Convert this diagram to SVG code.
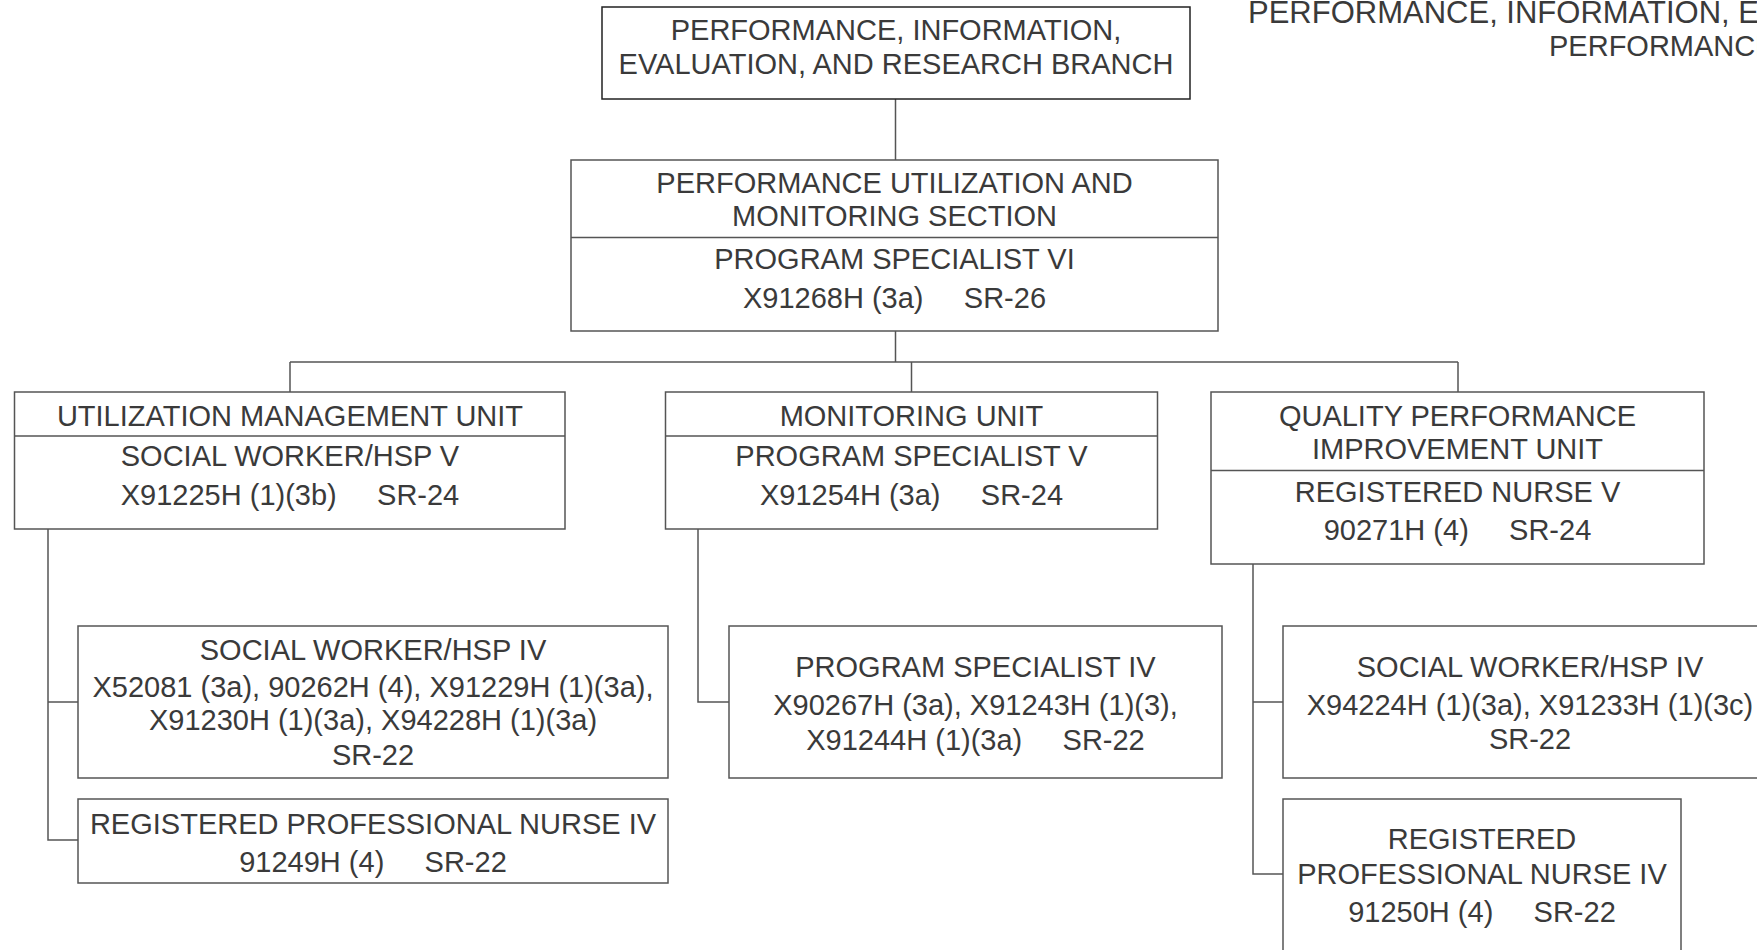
<svg xmlns="http://www.w3.org/2000/svg" width="1757" height="950" viewBox="0 0 1757 950">
<style>
text{font-family:"Liberation Sans",Arial,sans-serif;font-size:29px;fill:#3a3a3a;text-anchor:middle}
.box{fill:#fff;stroke:#555;stroke-width:1.5}
.top{fill:#fff;stroke:#222;stroke-width:1.5}
.div{stroke:#555;stroke-width:1.5}
.con{fill:none;stroke:#555;stroke-width:1.5}
.title{text-anchor:start}
</style>
<rect width="1757" height="950" fill="#fff"/>
<g id="title">
<text class="title" x="1248" y="23" style="font-size:31px">PERFORMANCE, INFORMATION, E</text>
<text class="title" x="1549" y="56">PERFORMANCE</text>
</g>
<g id="connectors">
<path class="con" d="M895.5,99V160M895.5,331V362M290,362H1458M290,362V392M911.5,362V392M1458,362V392"/>
<path class="con" d="M48,529V840H78M48,702H78"/>
<path class="con" d="M698,529V702H729"/>
<path class="con" d="M1253,564V874H1283M1253,702H1283"/>
</g>
<g id="branch">
<rect class="top" x="602" y="7" width="588" height="92"/>
<text x="896" y="40">PERFORMANCE, INFORMATION,</text>
<text x="896" y="74">EVALUATION, AND RESEARCH BRANCH</text>
</g>
<g id="section">
<rect class="box" x="571" y="160" width="647" height="171"/>
<line class="div" x1="571" y1="237.5" x2="1218" y2="237.5"/>
<text x="894.5" y="193">PERFORMANCE UTILIZATION AND</text>
<text x="894.5" y="226">MONITORING SECTION</text>
<text x="894.5" y="269">PROGRAM SPECIALIST VI</text>
<text x="894.5" y="308" xml:space="preserve">X91268H (3a)     SR-26</text>
</g>
<g id="umu">
<rect class="box" x="14.5" y="392" width="550.5" height="137"/>
<line class="div" x1="14.5" y1="436" x2="565" y2="436"/>
<text x="290" y="426">UTILIZATION MANAGEMENT UNIT</text>
<text x="290" y="466">SOCIAL WORKER/HSP V</text>
<text x="290" y="505" xml:space="preserve">X91225H (1)(3b)     SR-24</text>
</g>
<g id="monitoring">
<rect class="box" x="665.5" y="392" width="492" height="137"/>
<line class="div" x1="665.5" y1="436" x2="1157.5" y2="436"/>
<text x="911.5" y="426">MONITORING UNIT</text>
<text x="911.5" y="466">PROGRAM SPECIALIST V</text>
<text x="911.5" y="505" xml:space="preserve">X91254H (3a)     SR-24</text>
</g>
<g id="qpi">
<rect class="box" x="1211" y="392" width="493" height="172"/>
<line class="div" x1="1211" y1="470.5" x2="1704" y2="470.5"/>
<text x="1457.5" y="426">QUALITY PERFORMANCE</text>
<text x="1457.5" y="459">IMPROVEMENT UNIT</text>
<text x="1457.5" y="502">REGISTERED NURSE V</text>
<text x="1457.5" y="540" xml:space="preserve">90271H (4)     SR-24</text>
</g>
<g id="sw4-left">
<rect class="box" x="78" y="626" width="590" height="152"/>
<text x="373" y="660">SOCIAL WORKER/HSP IV</text>
<text x="373" y="697">X52081 (3a), 90262H (4), X91229H (1)(3a),</text>
<text x="373" y="730">X91230H (1)(3a), X94228H (1)(3a)</text>
<text x="373" y="765">SR-22</text>
</g>
<g id="rpn4-left">
<rect class="box" x="78" y="799" width="590" height="84"/>
<text x="373" y="834">REGISTERED PROFESSIONAL NURSE IV</text>
<text x="373" y="872" xml:space="preserve">91249H (4)     SR-22</text>
</g>
<g id="ps4">
<rect class="box" x="729" y="626" width="493" height="152"/>
<text x="975.5" y="677">PROGRAM SPECIALIST IV</text>
<text x="975.5" y="715">X90267H (3a), X91243H (1)(3),</text>
<text x="975.5" y="750" xml:space="preserve">X91244H (1)(3a)     SR-22</text>
</g>
<g id="sw4-right">
<rect class="box" x="1283" y="626" width="494" height="152"/>
<text x="1530" y="677">SOCIAL WORKER/HSP IV</text>
<text x="1530" y="715">X94224H (1)(3a), X91233H (1)(3c)</text>
<text x="1530" y="749">SR-22</text>
</g>
<g id="rpn4-right">
<rect class="box" x="1283" y="799" width="398" height="200"/>
<text x="1482" y="849">REGISTERED</text>
<text x="1482" y="884">PROFESSIONAL NURSE IV</text>
<text x="1482" y="922" xml:space="preserve">91250H (4)     SR-22</text>
</g>
</svg>
